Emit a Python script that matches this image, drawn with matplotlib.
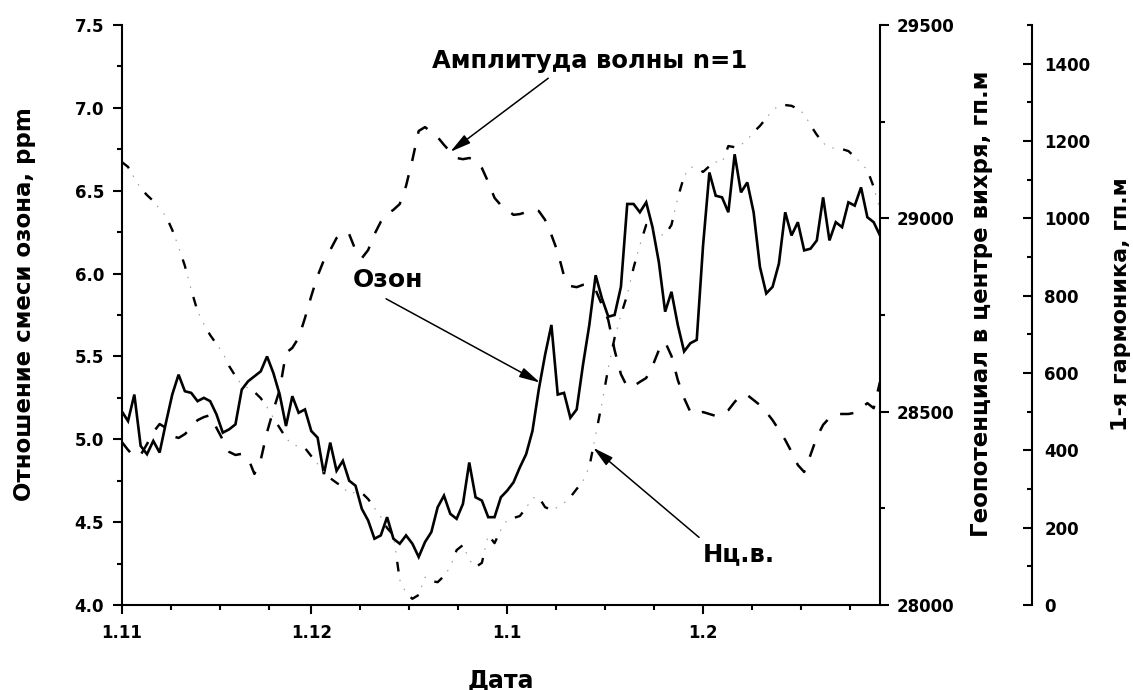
import numpy as np
import matplotlib
matplotlib.use('Agg')
import matplotlib.pyplot as plt
from matplotlib.ticker import MultipleLocator, FixedLocator, FormatStrFormatter

plt.rcParams['font.family'] = ['DejaVu Sans']
plt.rcParams['font.weight'] = 'bold'
plt.rcParams['lines.scale_dashes'] = False

# ---- data -------------------------------------------------------------
month_labels = ['1.11', '1.12', '1.1', '1.2']
month_starts = [0, 30, 61, 92]          # day index of 1 Nov, 1 Dec, 1 Jan, 1 Feb
n_days = 120                            # 1 Nov .. 1 Mar

# ozone mixing ratio, ppm (daily)
ozone = [5.17, 5.11, 5.27, 4.96, 4.91, 4.99, 4.92, 5.10, 5.27, 5.39,
         5.29, 5.28, 5.23, 5.25, 5.23, 5.15, 5.04, 5.06, 5.09, 5.30,
         5.35, 5.38, 5.41, 5.50, 5.40, 5.27, 5.08, 5.26, 5.16, 5.18,
         5.05, 5.01, 4.79, 4.98, 4.81, 4.87, 4.75, 4.72, 4.58, 4.51,
         4.40, 4.42, 4.53, 4.40, 4.37, 4.42, 4.37, 4.29, 4.38, 4.44,
         4.59, 4.66, 4.55, 4.52, 4.61, 4.86, 4.65, 4.63, 4.53, 4.53,
         4.65,
         4.69, 4.74, 4.83, 4.91, 5.05, 5.30, 5.51, 5.69, 5.27, 5.28,
         5.13, 5.18, 5.45, 5.69, 5.99, 5.85, 5.74, 5.75, 5.92, 6.42,
         6.42, 6.37, 6.43, 6.28, 6.07, 5.77, 5.89, 5.69, 5.53, 5.58,
         5.60, 6.17, 6.61, 6.47, 6.46, 6.37, 6.72, 6.49, 6.55, 6.37,
         6.04, 5.88, 5.92, 6.06, 6.37, 6.23, 6.31, 6.14, 6.15, 6.20,
         6.46, 6.20, 6.31, 6.28, 6.43, 6.41, 6.52, 6.34, 6.31, 6.23]

# amplitude of wave n=1, gp.m
amp = [422, 401, 383, 388, 416, 447, 468, 458, 437, 432,
       442, 458, 478, 486, 491, 458, 427, 396, 388, 391,
       380, 339, 375, 447, 504, 556, 652, 665, 691, 742,
       799, 851, 892, 918, 949, 965, 959, 918, 897, 918,
       959, 991, 1011, 1022, 1037, 1084, 1151, 1226, 1236, 1223,
       1210, 1190, 1172, 1156, 1153, 1156, 1151, 1130, 1094, 1053,
       1034, 1022, 1009, 1011, 1016, 1022, 1019, 996, 957, 913,
       851, 825, 822, 828, 828, 815, 776, 737, 659, 597,
       564, 566, 577, 587, 618, 659, 680, 644, 582, 535,
       499, 491, 499, 494, 489, 494, 504, 525, 543, 543,
       530, 517, 499, 478, 453, 427, 396, 362, 344, 388,
       434, 466, 484, 494, 494, 494, 497, 509, 522, 509,
       577]

# geopotential in the vortex centre, gp.m
geo = [29146, 29133, 29104, 29078, 29060, 29045, 29024, 29006, 28970, 28926,
       28877, 28815, 28760, 28727, 28698, 28675, 28652, 28618, 28592, 28569,
       28561, 28551, 28535, 28512, 28484, 28458, 28432, 28414, 28411, 28406,
       28385, 28365, 28344, 28328, 28316, 28305, 28287, 28292, 28290, 28274,
       28251, 28228, 28199, 28181, 28065, 28031, 28016, 28026, 28072, 28062,
       28059, 28075, 28098, 28142, 28155, 28116, 28098, 28109, 28181, 28160,
       28194, 28220, 28225, 28230, 28251, 28277, 28279, 28253, 28246, 28253,
       28264, 28279, 28300, 28321, 28357, 28440, 28522, 28613, 28691, 28750,
       28802, 28872, 28931, 28983, 28975, 28957, 28957, 28983, 29053, 29109,
       29133, 29130, 29120, 29135, 29146, 29143, 29187, 29184, 29190, 29203,
       29223, 29239, 29259, 29280, 29291, 29293, 29291, 29283, 29270, 29241,
       29216, 29195, 29182, 29182, 29179, 29174, 29159, 29143, 29125, 29081,
       29022]

days = np.arange(len(ozone))

# ---- figure -----------------------------------------------------------
W, H = 1133, 690
fig = plt.figure(figsize=(W / 100, H / 100), dpi=100)
x0, x1, y0, y1 = 121.7, 880.0, 25.0, 605.0
ax = fig.add_axes([x0 / W, 1 - y1 / H, (x1 - x0) / W, (y1 - y0) / H])
ax1 = ax.twinx()
ax2 = ax.twinx()
ax2.spines['right'].set_position(('axes', 1.2))

for a in (ax, ax1, ax2):
    for s in a.spines.values():
        s.set_visible(False)
        s.set_linewidth(1.5)
ax.spines['left'].set_visible(True)
ax.spines['bottom'].set_visible(True)
ax1.spines['right'].set_visible(True)
ax2.spines['right'].set_visible(True)

# lines
ax.plot(days, ozone, color='black', lw=1.9, solid_joinstyle='miter', zorder=3)
ax2.plot(days, amp, color='black', lw=1.8, linestyle=(0, (9.6, 10.5)),
         dash_capstyle='butt')
ax1.plot(days, geo, color='black', lw=1.7, linestyle=(0, (7.0, 21.1)),
         dash_capstyle='butt')
ax1.plot(days, geo, color='#9a9a9a', lw=0.8,
         linestyle=(15.1, (1.1, 6.1, 1.1, 19.8)), dash_capstyle='butt')

# limits
ax.set_xlim(0, n_days)
ax.set_ylim(4.0, 7.5)
ax1.set_ylim(28000, 29500)
ax2.set_ylim(0, 1500)

# x ticks
minor_x = [m + k * 7.75 for m in month_starts for k in (1, 2, 3)]
ax.xaxis.set_major_locator(FixedLocator(month_starts))
ax.xaxis.set_minor_locator(FixedLocator(minor_x))
ax.set_xticklabels(month_labels)
ax.tick_params(axis='x', which='major', direction='out', length=6.8, width=1.5,
               labelsize=12, pad=7)
ax.tick_params(axis='x', which='minor', direction='out', length=3.5, width=1.5)

# left y
ax.yaxis.set_major_locator(MultipleLocator(0.5))
ax.yaxis.set_minor_locator(MultipleLocator(0.25))
ax.yaxis.set_major_formatter(FormatStrFormatter('%.1f'))
ax.tick_params(axis='y', which='major', direction='out', length=6.8, width=1.5,
               labelsize=12, pad=6)
ax.tick_params(axis='y', which='minor', direction='out', length=3.5, width=1.5)

# middle y (geopotential)
ax1.yaxis.set_major_locator(MultipleLocator(500))
ax1.yaxis.set_minor_locator(MultipleLocator(250))
ax1.tick_params(axis='y', which='major', direction='out', length=6.8, width=1.5,
                labelsize=12, pad=5)
ax1.tick_params(axis='y', which='minor', direction='out', length=3.5, width=1.5)

# right y (amplitude)
ax2.yaxis.set_major_locator(MultipleLocator(200))
ax2.yaxis.set_minor_locator(MultipleLocator(100))
ax2.tick_params(axis='y', which='major', direction='in', length=6.8, width=1.5,
                labelsize=12, pad=9)
ax2.tick_params(axis='y', which='minor', direction='in', length=3.5, width=1.5)

# axis titles
ax.set_xlabel('Дата', fontsize=17, fontweight='bold')
ax.xaxis.set_label_coords(0.5, -(680 - y1) / (y1 - y0))
ax.xaxis.label.set_va('center')
ax.set_ylabel('Отношение смеси озона, ppm', fontsize=16.5, fontweight='bold')
ax.yaxis.set_label_coords((25 - x0) / (x1 - x0), (y1 - 304) / (y1 - y0))
ax.yaxis.label.set_va('center')
fig.text(981.7 / W, 1 - 304 / H, 'Геопотенциал в центре вихря, гп.м',
         rotation=90, ha='center', va='center', fontsize=16.5, fontweight='bold')
fig.text(1121 / W, 1 - 304 / H, '1-я гармоника, гп.м',
         rotation=90, ha='center', va='center', fontsize=16, fontweight='bold')

# annotations
arrow = dict(arrowstyle='-|>,head_length=0.9,head_width=0.22', color='black',
             lw=1.1, mutation_scale=14, shrinkB=0)
d_amp = 52
ax2.annotate('Амплитуда волны n=1', xy=(days[d_amp], amp[d_amp]), xycoords=ax2.transData,
             xytext=(74.1, 7.283), textcoords=ax.transData,
             ha='center', va='center', fontsize=17.5, fontweight='bold',
             arrowprops=dict(arrow, relpos=(0.39, 0.0), shrinkA=3))
d_oz = 66.2
ax2.annotate('Озон', xy=(d_oz, np.interp(d_oz, days, ozone)), xycoords=ax.transData,
             xytext=(42.1, 5.961), textcoords=ax.transData,
             ha='center', va='center', fontsize=18, fontweight='bold',
             arrowprops=dict(arrow, relpos=(0.3, 0.0), shrinkA=6))
d_geo = 74.6
ax2.annotate('Нц.в.', xy=(d_geo, np.interp(d_geo, days, geo)), xycoords=ax1.transData,
             xytext=(97.7, 4.308), textcoords=ax.transData,
             ha='center', va='center', fontsize=17.5, fontweight='bold',
             arrowprops=dict(arrow, relpos=(0.02, 1.0), shrinkA=2))

fig.savefig('out.png', dpi=100)
